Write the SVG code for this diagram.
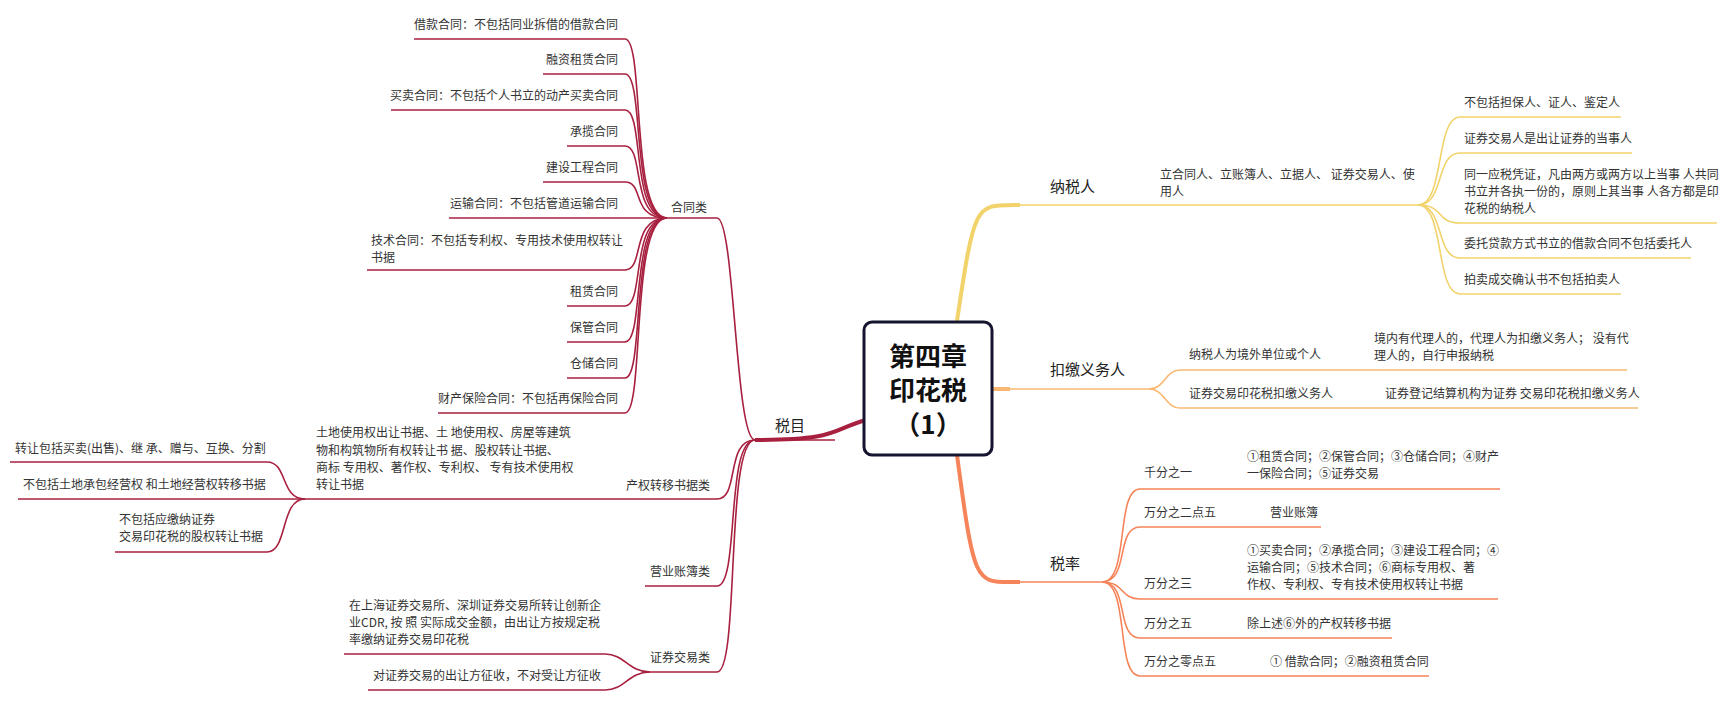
<svg xmlns="http://www.w3.org/2000/svg" width="1734" height="708" viewBox="0 0 1734 708">
<style>
text{font-family:"Noto Sans CJK SC","Liberation Sans",sans-serif;font-size:12px;fill:#333}
.m{font-size:15px;fill:#222}
.r{stroke:#a8203f;fill:none;stroke-width:1.6}
.y{stroke:#f2d36b;fill:none;stroke-width:1.6}
.o{stroke:#f9b872;fill:none;stroke-width:1.6}
.c{stroke:#f6845a;fill:none;stroke-width:1.6}
.e{text-anchor:end}
</style>
<rect width="1734" height="708" fill="#fff"/>
<g id="connectors">
<path d="M866,420 C830,430 840,440 755,440" stroke="#a8203f" stroke-width="4" fill="none"/>
<path d="M957,321 C975,200 975,205 1020,205" stroke="#f2d36b" stroke-width="4" fill="none"/>
<path d="M992,389 L1010,389" stroke="#f9b872" stroke-width="4" fill="none"/>
<path d="M957,455 C975,590 975,582 1020,582" stroke="#f6845a" stroke-width="4" fill="none"/>
<path class="r" d="M755,440 L835,440"/>
<path class="r" d="M755,440 C735,440 735,218 717,218 M717,218 L664,218"/>
<path class="r" d="M755,440 C725,440 740,499 717,499 L305,499"/>
<path class="r" d="M755,440 C725,440 740,586 717,586 L645,586"/>
<path class="r" d="M755,440 C725,440 740,672 717,672 L650,672"/>
<path class="r" d="M667,218 C630,218 645,39 625,39 L414,39"/>
<path class="r" d="M667,218 C630,218 645,74 625,74 L543,74"/>
<path class="r" d="M667,218 C630,218 645,110 625,110 L391,110"/>
<path class="r" d="M667,218 C630,218 645,146 625,146 L567,146"/>
<path class="r" d="M667,218 C630,218 645,182 625,182 L543,182"/>
<path class="r" d="M667,218 L449,218"/>
<path class="r" d="M667,218 C630,218 645,270 625,270 L367,270"/>
<path class="r" d="M667,218 C630,218 645,306 625,306 L567,306"/>
<path class="r" d="M667,218 C630,218 645,342 625,342 L567,342"/>
<path class="r" d="M667,218 C630,218 645,378 625,378 L567,378"/>
<path class="r" d="M667,218 C630,218 645,413 625,413 L438,413"/>
<path class="r" d="M305,499 C280,499 288,462 267,462 L10,462"/>
<path class="r" d="M305,499 L18,499"/>
<path class="r" d="M305,499 C280,499 288,552 267,552 L115,552"/>
<path class="r" d="M650,672 C628,672 625,654 605,654 L344,654"/>
<path class="r" d="M650,672 C628,672 625,690 605,690 L368,690"/>
<path class="y" d="M1010,205 L1418,205"/>
<path class="y" d="M1418,205 C1445,205 1435,117 1460,117 L1621,117"/>
<path class="y" d="M1418,205 C1445,205 1435,153 1460,153 L1632,153"/>
<path class="y" d="M1418,205 C1445,205 1435,223 1460,223 L1717,223"/>
<path class="y" d="M1418,205 C1445,205 1435,258 1460,258 L1691,258"/>
<path class="y" d="M1418,205 C1445,205 1435,294 1460,294 L1621,294"/>
<path class="o" d="M1010,389 L1149,389"/>
<path class="o" d="M1149,389 C1165,389 1165,370 1180,370 L1627,370"/>
<path class="o" d="M1149,389 C1165,389 1165,408 1180,408 L1638,408"/>
<path class="c" d="M1010,582 L1102,582"/>
<path class="c" d="M1102,582 C1130,582 1115,489 1140,489 L1500,489"/>
<path class="c" d="M1102,582 C1130,582 1115,527 1140,527 L1321,527"/>
<path class="c" d="M1102,582 C1125,582 1120,599 1140,599 L1498,599"/>
<path class="c" d="M1102,582 C1130,582 1115,638 1140,638 L1392,638"/>
<path class="c" d="M1102,582 C1130,582 1115,676 1140,676 L1429,676"/>
</g>
<g id="root">
<rect x="864" y="322" width="128" height="133" rx="8" fill="#fff" stroke="#151530" stroke-width="3"/>
<text x="928" y="366" text-anchor="middle" style="font-size:26px;font-weight:bold;fill:#111">第四章</text>
<text x="928" y="400" text-anchor="middle" style="font-size:26px;font-weight:bold;fill:#111">印花税</text>
<text x="928" y="434" text-anchor="middle" style="font-size:26px;font-weight:bold;fill:#111">（1）</text>
</g>
<g id="shuimu"><text class="m" x="775" y="431">税目</text></g>
<g id="hetong"><text x="671" y="212">合同类</text>
<text class="e" x="618" y="29">借款合同：不包括同业拆借的借款合同</text>
<text class="e" x="618" y="64">融资租赁合同</text>
<text class="e" x="618" y="100">买卖合同：不包括个人书立的动产买卖合同</text>
<text class="e" x="618" y="136">承揽合同</text>
<text class="e" x="618" y="172">建设工程合同</text>
<text class="e" x="618" y="208">运输合同：不包括管道运输合同</text>
<text x="371" y="245">技术合同：不包括专利权、专用技术使用权转让</text>
<text x="371" y="262">书据</text>
<text class="e" x="618" y="296">租赁合同</text>
<text class="e" x="618" y="332">保管合同</text>
<text class="e" x="618" y="368">仓储合同</text>
<text class="e" x="618" y="403">财产保险合同：不包括再保险合同</text>
</g>
<g id="chanquan"><text class="e" x="710" y="490">产权转移书据类</text>
<text x="316" y="437">土地使用权出让书据、土 地使用权、房屋等建筑</text>
<text x="316" y="455"> 物和构筑物所有权转让书 据、股权转让书据、</text>
<text x="316" y="472">商标  专用权、著作权、专利权、 专有技术使用权</text>
<text x="316" y="489">转让书据</text>
<text x="15" y="453">转让包括买卖(出售)、继 承、赠与、互换、分割</text>
<text x="23" y="489">不包括土地承包经营权 和土地经营权转移书据</text>
<text x="119" y="524">不包括应缴纳证券</text>
<text x="119" y="541">交易印花税的股权转让书据</text>
</g>
<g id="yingye"><text class="e" x="710" y="576">营业账簿类</text></g>
<g id="zhengquan"><text class="e" x="710" y="662">证券交易类</text>
<text x="349" y="610">在上海证券交易所、深圳证券交易所转让创新企</text>
<text x="349" y="627">业CDR, 按 照 实际成交金额，由出让方按规定税</text>
<text x="349" y="644">率缴纳证券交易印花税</text>
<text x="373" y="680">对证券交易的出让方征收，不对受让方征收</text>
</g>
<g id="nashuiren"><text class="m" x="1050" y="192">纳税人</text>
<text x="1160" y="179">立合同人、立账簿人、立据人、 证券交易人、使</text>
<text x="1160" y="196">用人</text>
<text x="1464" y="107">不包括担保人、证人、鉴定人</text>
<text x="1464" y="143">证券交易人是出让证券的当事人</text>
<text x="1464" y="179">同一应税凭证，凡由两方或两方以上当事 人共同</text>
<text x="1464" y="196">书立并各执一份的，原则上其当事 人各方都是印</text>
<text x="1464" y="213">花税的纳税人</text>
<text x="1464" y="248">委托贷款方式书立的借款合同不包括委托人</text>
<text x="1464" y="284">拍卖成交确认书不包括拍卖人</text>
</g>
<g id="koujiao"><text class="m" x="1050" y="375">扣缴义务人</text>
<text x="1189" y="359">纳税人为境外单位或个人</text>
<text x="1374" y="343">境内有代理人的，代理人为扣缴义务人； 没有代</text>
<text x="1374" y="360">理人的，自行申报纳税</text>
<text x="1189" y="398">证券交易印花税扣缴义务人</text>
<text x="1385" y="398">证券登记结算机构为证券 交易印花税扣缴义务人</text>
</g>
<g id="shuilv"><text class="m" x="1050" y="569">税率</text>
<text x="1144" y="477">千分之一</text>
<text x="1247" y="461">①租赁合同；②保管合同；③仓储合同；④财产</text>
<text x="1247" y="478">一保险合同；⑤证券交易</text>
<text x="1144" y="517">万分之二点五</text>
<text x="1270" y="517">营业账簿</text>
<text x="1144" y="588">万分之三</text>
<text x="1247" y="555">①买卖合同；②承揽合同；③建设工程合同；④</text>
<text x="1247" y="572">运输合同；⑤技术合同；⑥商标专用权、著</text>
<text x="1247" y="589">作权、专利权、专有技术使用权转让书据</text>
<text x="1144" y="628">万分之五</text>
<text x="1247" y="628">除上述⑥外的产权转移书据</text>
<text x="1144" y="666">万分之零点五</text>
<text x="1270" y="666">① 借款合同；②融资租赁合同</text>
</g>
</svg>
